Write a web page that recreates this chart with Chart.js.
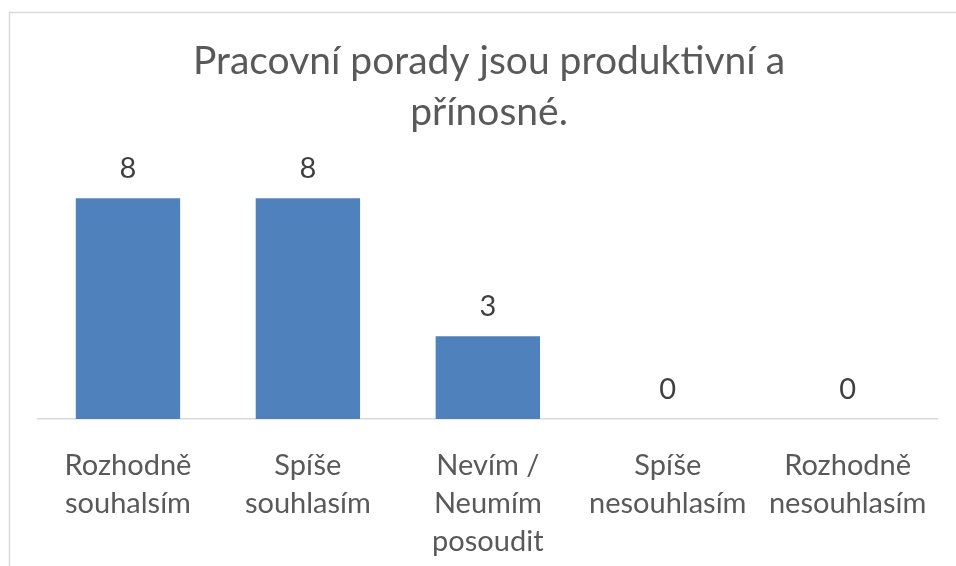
<!DOCTYPE html>
<html>
<head>
<meta charset="utf-8">
<script src="https://cdn.jsdelivr.net/npm/chart.js@4/dist/chart.umd.min.js"></script>
<style>
  html, body { margin: 0; padding: 0; background: #fff; }
  #wrap { width: 956px; height: 566px; position: relative; }
</style>
</head>
<body>
<div id="wrap"><canvas id="chart" width="956" height="566"></canvas></div>
<script>
const titleLines = ['Pracovní porady jsou produktivní a', 'přínosné.']
const categories = [
    ['Rozhodně', 'souhalsím'],
    ['Spíše', 'souhlasím'],
    ['Nevím /', 'Neumím', 'posoudit'],
    ['Spíše', 'nesouhlasím'],
    ['Rozhodně', 'nesouhlasím']
]
const values = [8, 8, 3, 0, 0]

const textColor = '#595959'
const fontName = 'Lato, "Open Sans", sans-serif'

// outer frame like the office chart area
const framePlugin = {
    id: 'frame',
    beforeDraw(chart) {
        const ctx = chart.ctx
        ctx.save()
        ctx.strokeStyle = '#d9d9d9'
        ctx.lineWidth = 1.5
        ctx.beginPath()
        ctx.moveTo(9.5, chart.height)
        ctx.lineTo(9.5, 12.5)
        ctx.lineTo(chart.width, 12.5)
        ctx.stroke()
        ctx.restore()
    }
}

// value labels above the bars
const labelsPlugin = {
    id: 'valueLabels',
    afterDatasetsDraw(chart) {
        const ctx = chart.ctx
        const meta = chart.getDatasetMeta(0)
        ctx.save()
        ctx.fillStyle = '#404040'
        ctx.font = '29px ' + fontName
        ctx.textAlign = 'center'
        ctx.textBaseline = 'alphabetic'
        meta.data.forEach((bar, i) => {
            ctx.fillText(String(values[i]), bar.x, bar.y - 20)
        })
        ctx.restore()
    }
}

const ctx = document.getElementById('chart').getContext('2d')
const chart = new Chart(ctx, {
    type: 'bar',
    data: {
        labels: categories,
        datasets: [{
            data: values,
            backgroundColor: '#4f81bd',
            borderWidth: 0,
            categoryPercentage: 0.58,
            barPercentage: 1
        }]
    },
    options: {
        responsive: false,
        animation: false,
        devicePixelRatio: 1,
        layout: { padding: { left: 38, right: 16, top: 36, bottom: -23 } },
        plugins: {
            legend: { display: false },
            tooltip: { enabled: false },
            title: {
                display: true,
                text: titleLines,
                color: textColor,
                font: { family: fontName, size: 39, weight: 'normal', lineHeight: 1.31 },
                padding: { top: 0, bottom: 5 }
            }
        },
        scales: {
            x: {
                grid: { display: false, drawTicks: false },
                border: { display: true, color: '#d9d9d9', width: 1.5 },
                ticks: {
                    color: textColor,
                    font: { family: fontName, size: 29, lineHeight: 1.31 },
                    padding: 28,
                    maxRotation: 0,
                    autoSkip: false
                }
            },
            y: {
                display: false,
                min: 0,
                max: 10
            }
        }
    },
    plugins: [framePlugin, labelsPlugin]
})
</script>
</body>
</html>
